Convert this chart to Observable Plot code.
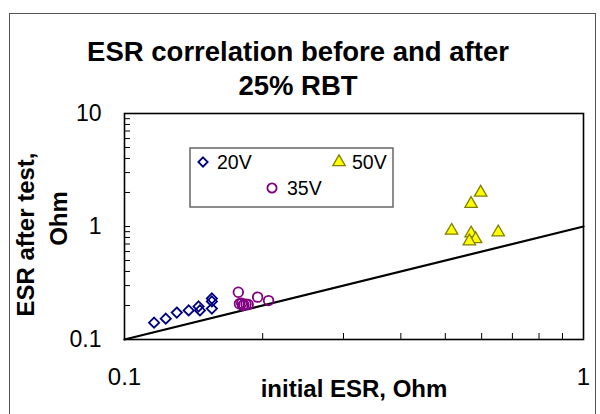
<!DOCTYPE html>
<html>
<head>
<meta charset="utf-8">
<script src="https://cdn.jsdelivr.net/npm/d3@7"></script>
<script src="https://cdn.jsdelivr.net/npm/@observablehq/plot@0.6"></script>
<style>
  html, body { margin: 0; padding: 0; background: #fff; }
  #wrap { position: relative; width: 600px; height: 414px; overflow: hidden; background: #fff;
          font-family: "Liberation Sans", Arial, sans-serif; }
  #border { position: absolute; left: 9px; top: 13px; width: 587px; height: 430px;
            border: 1.4px solid #555; box-sizing: border-box; }
  #title { position: absolute; left: -2px; top: 35px; width: 600px; text-align: center;
           font-weight: bold; font-size: 27.5px; line-height: 34px; color: #000; }
  #chart { position: absolute; left: 0; top: 0; }
  #legend { position: absolute; left: 0; top: 0; pointer-events: none; }
</style>
</head>
<body>
<div id="wrap">
  <div id="border"></div>
  <div id="chart"></div>
  <div id="title">ESR correlation before and after<br>25% RBT</div>
  <div id="legend"></div>
</div>
<script>
// ---- Data ----
const x20 = [0.116, 0.123, 0.130, 0.138, 0.145, 0.146, 0.155, 0.155, 0.155];
const y20 = [0.141, 0.153, 0.173, 0.181, 0.196, 0.181, 0.231, 0.217, 0.188];

const x35 = [0.177, 0.195, 0.206, 0.178, 0.180, 0.182, 0.184, 0.181, 0.186];
const y35 = [0.262, 0.237, 0.221, 0.207, 0.209, 0.203, 0.205, 0.200, 0.204];

const x50 = [0.597, 0.569, 0.516, 0.569, 0.582, 0.564, 0.652];
const y50 = [2.00, 1.59, 0.92, 0.87, 0.775, 0.74, 0.89];

// 1:1 reference line
const lineX = [0.1, 1];
const lineY = [0.1, 1];

const seriesNames = ["20V", "35V", "50V"];

const xTicks = [0.1, 1];
const xTickLabels = ["0.1", "1"];
const yTicks = [0.1, 1, 10];
const yTickLabels = ["0.1", "1", "10"];
const xMinor = [0.2, 0.3, 0.4, 0.5, 0.6, 0.7, 0.8, 0.9];
const yMinor = [0.2, 0.3, 0.4, 0.5, 0.6, 0.7, 0.8, 0.9, 1, 2, 3, 4, 5, 6, 7, 8, 9];

const xLabel = "initial ESR, Ohm";
const yLabelLines = ["ESR after test,", "Ohm"];

// ---- Tables ----
const d20 = x20.map((x, i) => ({x, y: y20[i]}));
const d35 = x35.map((x, i) => ({x, y: y35[i]}));
const d50 = x50.map((x, i) => ({x, y: y50[i]}));
const dLine = lineX.map((x, i) => ({x, y: lineY[i]}));

const FONT = "Liberation Sans, Arial, sans-serif";

const chart = Plot.plot({
  width: 600,
  height: 414,
  marginLeft: 124,
  marginRight: 17,
  marginTop: 113,
  marginBottom: 75,
  style: {fontFamily: FONT, background: "transparent", color: "#000", overflow: "visible"},
  x: {type: "log", domain: [0.1, 1]},
  y: {type: "log", domain: [0.1, 10]},
  marks: [
    Plot.axisY({ticks: yMinor, tickSize: -6, tickFormat: () => "", label: null, strokeWidth: 1}),
    Plot.axisX({ticks: xMinor, tickSize: -6, tickFormat: () => "", label: null, strokeWidth: 1}),
    Plot.axisY({ticks: yTicks, tickSize: 0, tickPadding: 23, fontSize: 23, label: null,
                tickFormat: d => yTickLabels[yTicks.indexOf(d)]}),
    Plot.axisX({ticks: xTicks, tickSize: 0, tickPadding: 28, fontSize: 24, label: null,
                tickFormat: d => xTickLabels[xTicks.indexOf(d)]}),
    Plot.line(dLine, {x: "x", y: "y", stroke: "#000", strokeWidth: 2.2}),
    Plot.dot(d20, {x: "x", y: "y", symbol: "diamond2", r: 4.6, stroke: "#000080", strokeWidth: 1.8}),
    Plot.dot(d35, {x: "x", y: "y", symbol: "circle", r: 4.8, stroke: "#800080", fill: "none", strokeWidth: 1.8}),
    Plot.dot(d50, {x: "x", y: "y", symbol: "triangle", r: 4.6, fill: "#ffff00", stroke: "#808000", strokeWidth: 1.3}),
    Plot.frame({stroke: "#000", strokeWidth: 1.6}),
    Plot.text([yLabelLines[0]], {frameAnchor: "left", rotate: -90, dx: -98, dy: 8, fontWeight: "bold",
                         fontSize: 24, textAnchor: "middle", lineAnchor: "middle"}),
    Plot.text([yLabelLines[1]], {frameAnchor: "left", rotate: -90, dx: -65, dy: -8, fontWeight: "bold",
                         fontSize: 24, textAnchor: "middle", lineAnchor: "middle"}),
    Plot.text([xLabel], {frameAnchor: "bottom", dy: 50, fontWeight: "bold", fontSize: 24,
                         textAnchor: "middle", lineAnchor: "middle"})
  ]
});
document.getElementById("chart").appendChild(chart);

// ---- Legend (boxed, two rows like the original) ----
const leg = d3.select("#legend").append("svg")
  .attr("width", 600).attr("height", 414)
  .style("font-family", FONT);
leg.append("rect")
  .attr("x", 190).attr("y", 148).attr("width", 203).attr("height", 59)
  .attr("fill", "#fff").attr("stroke", "#666").attr("stroke-width", 1.5);

const legItems = [
  {name: seriesNames[0], sym: d3.symbolDiamond2, r: 4.2, fill: "none", stroke: "#000080", sw: 1.8, mx: 203, my: 162, tx: 217},
  {name: seriesNames[2], sym: d3.symbolTriangle, r: 4.6, fill: "#ffff00", stroke: "#808000", sw: 1.3, mx: 339, my: 162, tx: 352},
  {name: seriesNames[1], sym: d3.symbolCircle, r: 4.6, fill: "none", stroke: "#800080", sw: 1.8, mx: 272, my: 188, tx: 287}
];
for (const it of legItems) {
  leg.append("path")
    .attr("d", d3.symbol(it.sym, it.r * it.r * Math.PI)())
    .attr("transform", `translate(${it.mx},${it.my})`)
    .attr("fill", it.fill).attr("stroke", it.stroke).attr("stroke-width", it.sw);
  leg.append("text")
    .attr("x", it.tx).attr("y", it.my).attr("dy", "0.35em")
    .attr("font-size", 19.5).attr("fill", "#000")
    .text(it.name);
}
</script>
</body>
</html>
